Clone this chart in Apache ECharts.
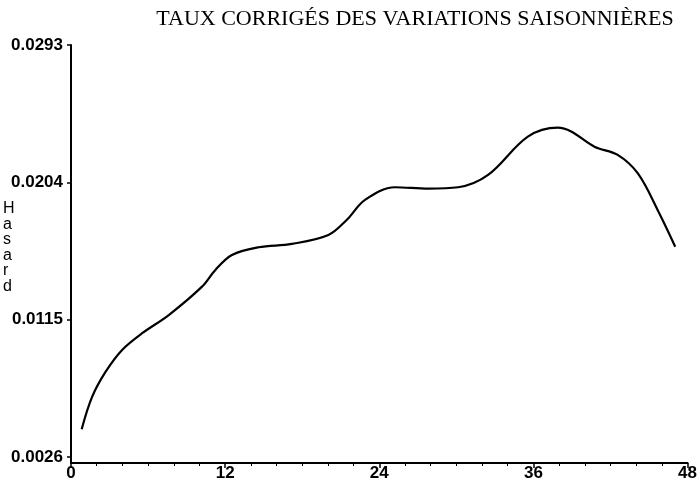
<!DOCTYPE html>
<html>
<head>
<meta charset="utf-8">
<script src="https://cdn.jsdelivr.net/npm/echarts@6/dist/echarts.min.js"></script>
<style>
  html, body { margin: 0; padding: 0; background: #fff; }
  #chart { width: 700px; height: 496px; }
</style>
</head>
<body>
<div id="chart"></div>
<script>
// months (x) and hazard values (y)
const months = [0.83, 1.65, 2.70, 3.98, 5.54, 7.61, 10.20, 11.24, 12.53, 14.60, 17.19,
  20.04, 21.46, 22.89, 25.22, 27.81, 30.14, 32.47, 35.57, 37.90, 38.94, 40.75,
  42.56, 44.12, 45.67, 47.04];
const hasard = [0.00440, 0.00651, 0.00813, 0.00954, 0.01062, 0.01180, 0.01364, 0.01472,
  0.01569, 0.01619, 0.01641, 0.01699, 0.01796, 0.01926, 0.02008, 0.01999, 0.02008,
  0.02088, 0.02336, 0.02394, 0.02369, 0.02271, 0.02218, 0.02099, 0.01861, 0.01623];
const yTicks = [0.0026, 0.0115, 0.0204, 0.0293];
const xTicks = [0, 12, 24, 36, 48];

const chart = echarts.init(document.getElementById('chart'));
const labelFont = { color: '#000', fontFamily: 'Liberation Sans, Arial, sans-serif', fontWeight: 'bold', fontSize: 17 };

chart.setOption({
  animation: false,
  backgroundColor: '#fff',
  title: {
    text: 'TAUX CORRIGÉS DES VARIATIONS SAISONNIÈRES',
    left: 410,
    top: 3,
    textAlign: 'center',
    textStyle: { fontFamily: 'Liberation Serif, Times New Roman, serif', fontWeight: 'normal', fontSize: 22, color: '#000' }
  },
  graphic: [{
    type: 'text',
    left: 3,
    top: 201,
    style: {
      text: 'H\na\ns\na\nr\nd',
      fill: '#000',
      font: '16px Liberation Sans, Arial, sans-serif',
      lineHeight: 15.5,
      align: 'center',
      width: 14
    }
  }],
  grid: { left: 71, right: 10, top: 45, bottom: 33 },
  xAxis: {
    type: 'value',
    min: 0,
    max: 48,
    interval: 12,
    axisLine: { lineStyle: { color: '#000', width: 2 } },
    axisTick: { length: 5, lineStyle: { color: '#000', width: 1.5 } },
    minorTick: { show: true, splitNumber: 6, length: 3, lineStyle: { color: '#000' } },
    splitLine: { show: false },
    axisLabel: Object.assign({ margin: 2, customValues: xTicks }, labelFont)
  },
  yAxis: {
    type: 'value',
    min: 0.00221,
    max: 0.0293,
    axisLine: { show: true, lineStyle: { color: '#000', width: 2 } },
    axisTick: { show: true, length: 4, customValues: yTicks, lineStyle: { color: '#000', width: 1.5 } },
    splitLine: { show: false },
    axisLabel: Object.assign({
      margin: 8,
      customValues: yTicks,
      formatter: v => v.toFixed(4)
    }, labelFont)
  },
  series: [{
    type: 'line',
    data: months.map((m, i) => [m, hasard[i]]),
    smooth: 0.35,
    showSymbol: false,
    lineStyle: { color: '#000', width: 2.2 }
  }]
});
</script>
</body>
</html>
